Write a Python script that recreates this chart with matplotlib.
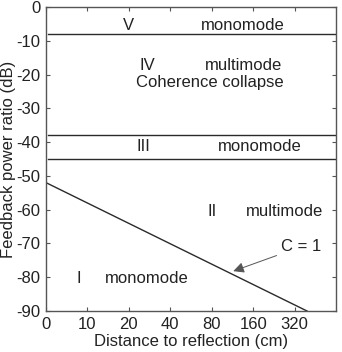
"""Feedback regimes chart: feedback power ratio vs distance to reflection"""

from matplotlib import pyplot as plt

plt.rcParams['font.family'] = ['Liberation Sans', 'DejaVu Sans']
plt.rcParams['axes.unicode_minus'] = False

### tick labels on the x axis (log-like spacing, one slot each)
x_labels = ["0", "10", "20", "40", "80", "160", "320"]
y_ticks = [0, -10, -20, -30, -40, -50, -60, -70, -80, -90]

### region borders (dB)
borders = [-8, -38, -45]

### C = 1 boundary line, in tick-slot units
c1_x = [0, 6.3]
c1_y = [-52, -90]

### region labels: (x, y, text, horizontal alignment)
labels = [
    (1.98, -5.6, "V", "center"),
    (4.76, -5.6, "monomode", "center"),
    (2.44, -17.2, "IV", "center"),
    (4.76, -17.2, "multimode", "center"),
    (3.96, -22.5, "Coherence collapse", "center"),
    (2.34, -41.4, "III", "center"),
    (5.17, -41.4, "monomode", "center"),
    (4.01, -60.6, "II", "center"),
    (5.75, -60.6, "multimode", "center"),
    (0.80, -80.5, "I", "center"),
    (2.44, -80.5, "monomode", "center"),
]

fs = 12
fig = plt.figure(figsize=(3.42, 3.52), dpi=100)
ax = fig.add_axes([46 / 342, 1 - 311 / 352, 290 / 342, 304 / 352])

lc = "#2a2a2a"
for b in borders:
    ax.plot([0.06, 7], [b, b], color=lc, lw=1)
ax.plot(c1_x, c1_y, color=lc, lw=1)

for x, y, t, ha in labels:
    ax.text(x, y, t, ha=ha, va="center", fontsize=fs, color="#222")

ax.annotate("C = 1", xy=(4.52, -78.2), xytext=(6.15, -71),
            ha="center", va="center", fontsize=fs, color="#222",
            arrowprops=dict(arrowstyle="-|>", color="#555", lw=0.7,
                            mutation_scale=16, shrinkA=1, shrinkB=0,
                            facecolor="#111"))

ax.set_xlim(0, 7)
ax.set_ylim(-90, 0)
ax.set_xticks(range(len(x_labels)))
ax.set_xticklabels(x_labels)
ax.set_yticks(y_ticks)
ax.tick_params(direction="in", length=3, width=0.8, labelsize=fs,
               top=True, right=True, colors="#555", labelcolor="#222", pad=4)
for s in ax.spines.values():
    s.set_color("#555")
    s.set_linewidth(1)

ax.set_xlabel("Distance to reflection (cm)", fontsize=fs, color="#222", labelpad=2)
ax.set_ylabel("Feedback power ratio (dB)", fontsize=fs, color="#222", labelpad=0)

plt.savefig("out.png", dpi=100)
